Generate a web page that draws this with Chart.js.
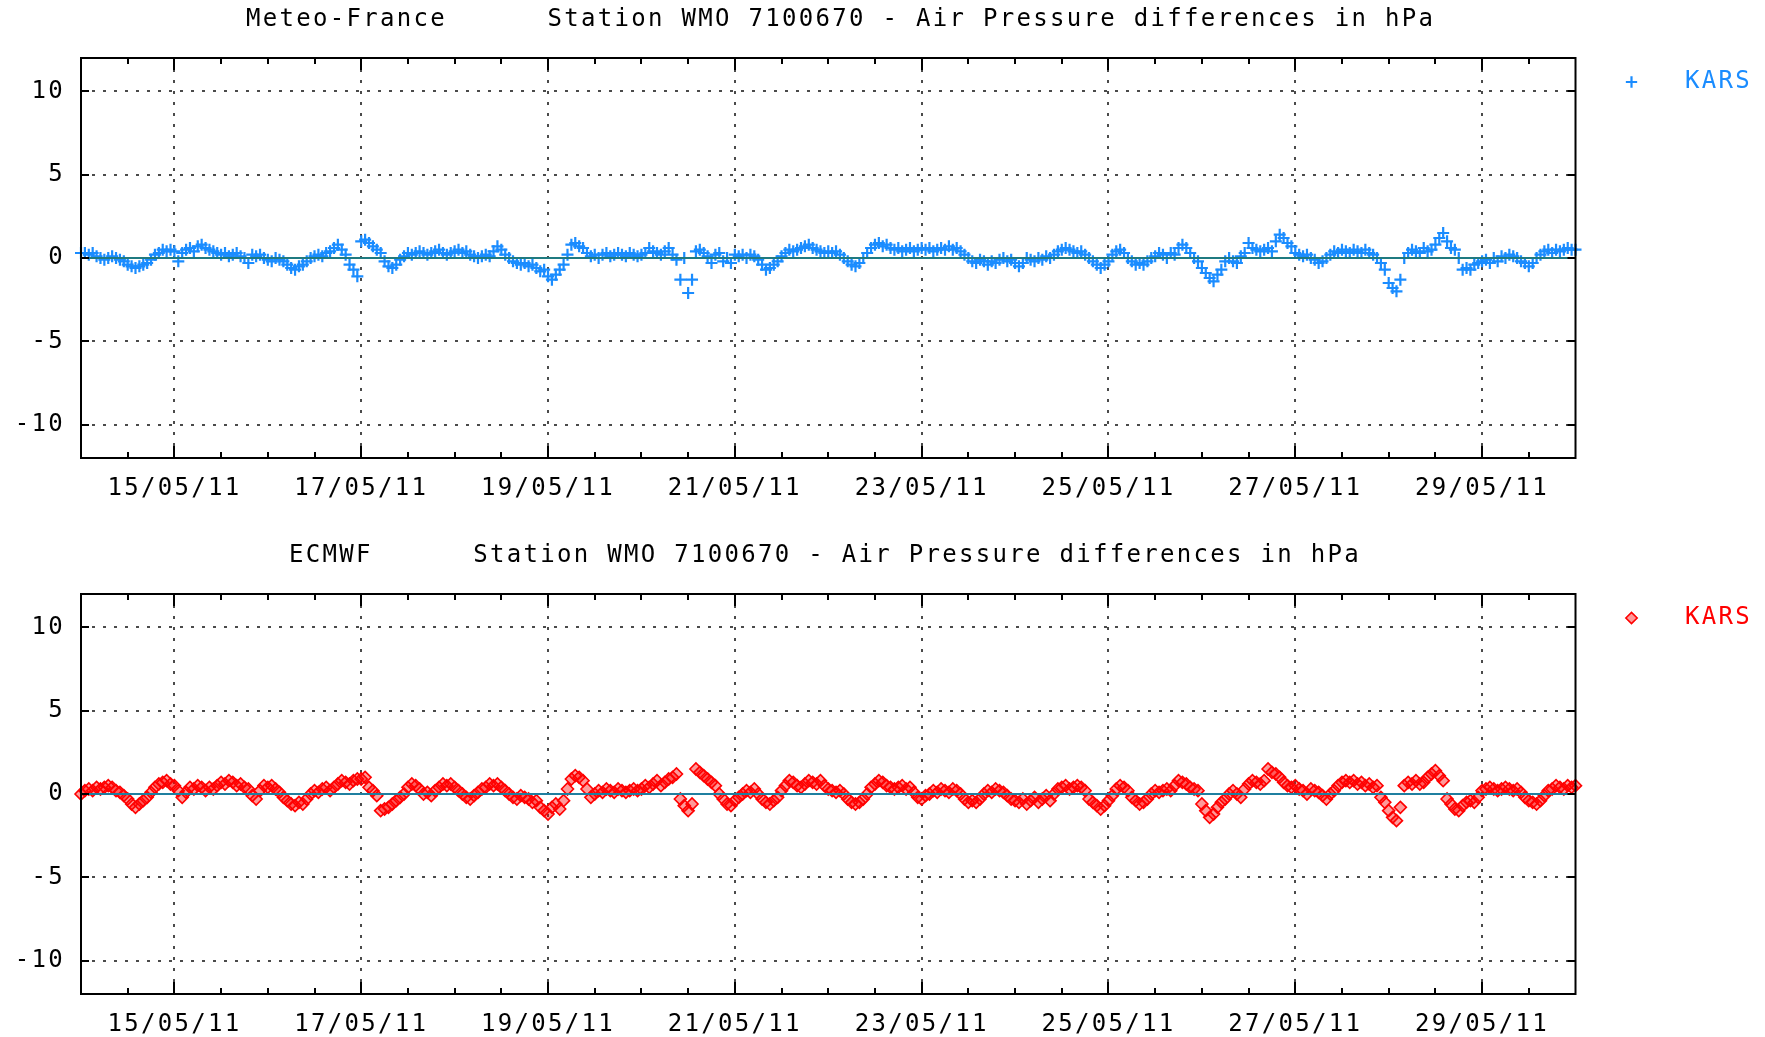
<!DOCTYPE html>
<html>
<head>
<meta charset="utf-8">
<title>Station WMO 7100670 - Air Pressure differences in hPa</title>
<script src="https://cdn.jsdelivr.net/npm/chart.js@4.4.1/dist/chart.umd.min.js"></script>
<style>
  html, body { margin: 0; padding: 0; background: #fff; }
  body { width: 1765px; height: 1037px; position: relative; overflow: hidden; }
  .panel { position: absolute; left: 0; width: 1765px; height: 500px; }
  #panel-mf { top: 0; }
  #panel-ec { top: 536px; }
</style>
</head>
<body>
<div class="panel" id="panel-mf"><canvas id="chart-mf" width="1765" height="500"></canvas></div>
<div class="panel" id="panel-ec"><canvas id="chart-ec" width="1765" height="500"></canvas></div>
<script>
// x axis is hours since 14/05/11 00:00, one reading per hour
const dateLabels = ['15/05/11', '17/05/11', '19/05/11', '21/05/11', '23/05/11', '25/05/11', '27/05/11', '29/05/11'];
const dateTickHours = [24, 72, 120, 168, 216, 264, 312, 360];
const halfDayTicks = [12, 24, 36, 48, 60, 72, 84, 96, 108, 120, 132, 144, 156, 168, 180, 192,
  204, 216, 228, 240, 252, 264, 276, 288, 300, 312, 324, 336, 348, 360, 372];
const pressureTicks = [-10, -5, 0, 5, 10];

// Meteo-France minus KARS, hPa (one row per day, 14/05 .. 29/05, plus 30/05 00h)
const meteoFranceDiff = [
  0.3, 0.3, 0.2, 0.3, 0.1, 0.0, -0.1, 0.0, 0.1, 0.0, -0.1, -0.2, -0.4, -0.5, -0.6, -0.5, -0.4, -0.3, -0.1, 0.2, 0.3, 0.5, 0.4, 0.5,
  0.4, -0.2, 0.3, 0.5, 0.6, 0.4, 0.7, 0.8, 0.6, 0.5, 0.4, 0.3, 0.2, 0.3, 0.1, 0.2, 0.3, 0.1, 0.0, -0.3, 0.2, 0.1, 0.2, 0.0,
  -0.1, -0.2, 0.0, -0.1, -0.2, -0.4, -0.6, -0.7, -0.5, -0.4, -0.2, 0.0, 0.1, 0.2, 0.1, 0.3, 0.4, 0.6, 0.8, 0.5, 0.2, -0.4, -0.7, -1.1,
  1.0, 1.1, 0.9, 0.7, 0.5, 0.3, -0.2, -0.5, -0.6, -0.4, -0.1, 0.1, 0.3, 0.2, 0.3, 0.4, 0.3, 0.2, 0.3, 0.4, 0.5, 0.3, 0.2, 0.3,
  0.4, 0.5, 0.3, 0.4, 0.2, 0.1, 0.0, 0.1, 0.2, 0.1, 0.4, 0.7, 0.5, 0.2, 0.0, -0.2, -0.3, -0.4, -0.3, -0.5, -0.4, -0.6, -0.8, -0.7,
  -1.1, -1.3, -1.0, -0.7, -0.4, 0.2, 0.8, 0.9, 0.7, 0.6, 0.3, 0.1, 0.2, 0.0, 0.2, 0.3, 0.1, 0.2, 0.3, 0.2, 0.1, 0.3, 0.2, 0.1,
  0.2, 0.3, 0.6, 0.4, 0.3, 0.2, 0.4, 0.6, 0.2, -0.1, -1.3, 0.0, -2.1, -1.3, 0.4, 0.5, 0.3, 0.1, -0.3, 0.2, 0.3, -0.2, 0.0, -0.3,
  0.2, 0.1, 0.2, 0.0, 0.2, 0.1, -0.1, -0.4, -0.7, -0.6, -0.4, -0.2, 0.1, 0.3, 0.5, 0.4, 0.5, 0.6, 0.7, 0.8, 0.6, 0.5, 0.4, 0.3,
  0.4, 0.3, 0.4, 0.2, 0.0, -0.2, -0.4, -0.5, -0.3, 0.0, 0.3, 0.6, 0.8, 0.9, 0.7, 0.8, 0.6, 0.5, 0.6, 0.4, 0.5, 0.6, 0.4, 0.5,
  0.6, 0.5, 0.6, 0.4, 0.5, 0.6, 0.5, 0.7, 0.5, 0.6, 0.4, 0.2, 0.0, -0.2, -0.3, -0.1, -0.2, -0.4, -0.2, -0.3, -0.1, 0.0, -0.2, -0.1,
  -0.3, -0.5, -0.3, 0.0, -0.1, -0.2, 0.0, -0.1, 0.1, 0.0, 0.2, 0.4, 0.5, 0.6, 0.5, 0.4, 0.3, 0.4, 0.2, 0.0, -0.2, -0.4, -0.6, -0.4,
  -0.2, 0.2, 0.4, 0.5, 0.3, 0.0, -0.2, -0.4, -0.3, -0.4, -0.2, 0.0, 0.1, 0.3, 0.2, 0.0, 0.3, 0.2, 0.6, 0.8, 0.6, 0.3, 0.0, -0.2,
  -0.6, -0.9, -1.2, -1.4, -1.0, -0.7, -0.2, 0.0, -0.2, -0.3, 0.1, 0.3, 0.9, 0.6, 0.5, 0.4, 0.5, 0.6, 0.4, 1.0, 1.4, 1.2, 0.9, 0.7,
  0.3, 0.2, 0.1, 0.2, 0.0, -0.1, -0.3, -0.2, 0.0, 0.2, 0.4, 0.3, 0.5, 0.4, 0.3, 0.5, 0.4, 0.3, 0.5, 0.3, 0.2, 0.0, -0.3, -0.7,
  -1.5, -1.8, -2.0, -1.3, 0.0, 0.3, 0.5, 0.4, 0.3, 0.6, 0.4, 0.5, 0.8, 1.2, 1.5, 1.0, 0.6, 0.5, 0.0, -0.7, -0.6, -0.7, -0.4, -0.3,
  -0.2, -0.1, -0.3, 0.0, -0.2, 0.1, 0.0, 0.2, 0.1, 0.0, -0.2, -0.3, -0.5, -0.3, 0.0, 0.2, 0.4, 0.5, 0.3, 0.5, 0.4, 0.5, 0.6, 0.5,
  0.5
];

// ECMWF minus KARS, hPa
const ecmwfDiff = [
  0.0, 0.2, 0.3, 0.2, 0.4, 0.3, 0.4, 0.5, 0.4, 0.2, 0.1, -0.1, -0.3, -0.6, -0.8, -0.6, -0.4, -0.2, 0.1, 0.4, 0.6, 0.7, 0.8, 0.6,
  0.5, 0.2, -0.2, 0.1, 0.4, 0.3, 0.5, 0.4, 0.2, 0.4, 0.3, 0.5, 0.7, 0.6, 0.8, 0.7, 0.5, 0.6, 0.4, 0.3, -0.1, -0.3, 0.2, 0.5,
  0.4, 0.5, 0.3, 0.1, -0.2, -0.4, -0.6, -0.7, -0.5, -0.6, -0.3, 0.0, 0.2, 0.1, 0.3, 0.4, 0.2, 0.4, 0.6, 0.8, 0.7, 0.6, 0.8, 0.9,
  0.9, 1.0, 0.4, 0.2, -0.1, -1.0, -0.9, -0.8, -0.6, -0.4, -0.2, 0.0, 0.4, 0.6, 0.5, 0.3, 0.0, 0.1, -0.1, 0.2, 0.4, 0.6, 0.5, 0.6,
  0.4, 0.2, 0.0, -0.2, -0.3, -0.1, 0.1, 0.3, 0.4, 0.6, 0.5, 0.6, 0.4, 0.2, 0.0, -0.2, -0.3, -0.1, -0.2, -0.3, -0.5, -0.4, -0.8, -1.0,
  -1.2, -0.8, -0.6, -0.9, -0.4, 0.3, 0.9, 1.1, 1.0, 0.8, 0.3, -0.2, 0.0, 0.2, 0.1, 0.3, 0.2, 0.1, 0.3, 0.2, 0.1, 0.2, 0.3, 0.2,
  0.3, 0.5, 0.4, 0.6, 0.8, 0.5, 0.7, 0.9, 1.0, 1.2, -0.3, -0.7, -1.0, -0.6, 1.5, 1.3, 1.1, 0.9, 0.7, 0.5, 0.0, -0.3, -0.6, -0.7,
  -0.4, -0.2, 0.0, 0.2, 0.1, 0.3, 0.0, -0.3, -0.5, -0.6, -0.4, -0.2, 0.2, 0.5, 0.8, 0.7, 0.5, 0.4, 0.6, 0.8, 0.7, 0.6, 0.8, 0.5,
  0.3, 0.2, 0.1, 0.2, 0.0, -0.3, -0.5, -0.6, -0.5, -0.3, 0.0, 0.4, 0.6, 0.8, 0.7, 0.5, 0.4, 0.3, 0.4, 0.5, 0.3, 0.4, 0.1, -0.2,
  -0.3, -0.1, 0.0, 0.2, 0.1, 0.3, 0.2, 0.1, 0.3, 0.2, 0.0, -0.3, -0.5, -0.4, -0.5, -0.3, 0.0, 0.2, 0.1, 0.3, 0.2, 0.1, -0.1, -0.3,
  -0.4, -0.5, -0.3, -0.6, -0.4, -0.2, -0.5, -0.3, -0.1, -0.4, 0.0, 0.3, 0.4, 0.5, 0.3, 0.4, 0.5, 0.4, 0.2, -0.3, -0.5, -0.7, -0.9, -0.7,
  -0.4, -0.1, 0.3, 0.5, 0.4, 0.2, -0.2, -0.4, -0.6, -0.5, -0.3, 0.0, 0.2, 0.1, 0.2, 0.3, 0.2, 0.5, 0.8, 0.7, 0.6, 0.4, 0.3, 0.2,
  -0.6, -1.0, -1.4, -1.2, -0.8, -0.5, -0.3, 0.0, 0.2, 0.0, -0.2, 0.3, 0.6, 0.8, 0.7, 0.6, 0.8, 1.5, 1.3, 1.2, 1.0, 0.7, 0.5, 0.4,
  0.5, 0.3, 0.2, 0.0, 0.3, 0.2, 0.1, -0.1, -0.3, 0.0, 0.2, 0.5, 0.7, 0.8, 0.7, 0.8, 0.6, 0.7, 0.5, 0.6, 0.4, 0.5, -0.2, -0.5,
  -1.0, -1.4, -1.6, -0.8, 0.5, 0.7, 0.6, 0.8, 0.6, 0.7, 1.0, 1.2, 1.4, 1.1, 0.8, -0.3, -0.6, -0.9, -1.0, -0.7, -0.5, -0.4, -0.5, -0.2,
  0.2, 0.3, 0.4, 0.3, 0.2, 0.3, 0.4, 0.3, 0.2, 0.3, 0.1, -0.2, -0.4, -0.5, -0.6, -0.4, -0.1, 0.2, 0.3, 0.5, 0.4, 0.3, 0.5, 0.4,
  0.5
];

const FONT_FAMILY = '"DejaVu Sans Mono", "Liberation Mono", monospace';
const FONT_SIZE = 24;
const LETTER_SPACING = '2.3px';
const tickFont = { family: FONT_FAMILY, size: FONT_SIZE };

// canvas text in the reference is widely spaced
const spacingPlugin = {
  id: 'spacing',
  beforeUpdate(chart) { chart.ctx.letterSpacing = LETTER_SPACING; },
  beforeDraw(chart) { chart.ctx.letterSpacing = LETTER_SPACING; }
};

const headerPlugin = {
  id: 'header',
  afterDraw(chart, args, opts) {
    const ctx = chart.ctx;
    ctx.save();
    ctx.letterSpacing = LETTER_SPACING;
    ctx.font = FONT_SIZE + 'px ' + FONT_FAMILY;
    ctx.fillStyle = '#000';
    ctx.textAlign = 'left';
    ctx.textBaseline = 'middle';
    ctx.fillText(opts.text, opts.x, opts.y);
    ctx.restore();
  }
};

// box round the plot and inward tick marks on all four sides
const framePlugin = {
  id: 'frame',
  afterDraw(chart) {
    const { ctx, chartArea: a, scales: { x, y } } = chart;
    ctx.save();
    ctx.strokeStyle = '#000';
    ctx.lineWidth = 2;
    ctx.beginPath();
    x.ticks.forEach(t => {
      const px = Math.round(x.getPixelForValue(t.value));
      const len = dateTickHours.includes(t.value) ? 12 : 6;
      ctx.moveTo(px, a.bottom); ctx.lineTo(px, a.bottom - len);
      ctx.moveTo(px, a.top); ctx.lineTo(px, a.top + len);
    });
    y.ticks.forEach(t => {
      const py = Math.round(y.getPixelForValue(t.value));
      ctx.moveTo(a.left, py); ctx.lineTo(a.left + 8, py);
      ctx.moveTo(a.right, py); ctx.lineTo(a.right - 8, py);
    });
    ctx.stroke();
    ctx.strokeRect(a.left, a.top, a.right - a.left, a.bottom - a.top);
    ctx.restore();
  }
};

function makeChart(canvasId, title, titleX, values, color, fill, pointStyle, zeroColor) {
  const points = values.map((v, h) => ({ x: h, y: v }));
  const legendLabels = Chart.defaults.plugins.legend.labels.generateLabels;
  return new Chart(document.getElementById(canvasId), {
    type: 'scatter',
    data: {
      datasets: [{
        label: 'KARS',
        data: points,
        pointStyle: pointStyle,
        pointRadius: 6,
        pointBorderWidth: pointStyle === 'cross' ? 2.2 : 1.6,
        pointBorderColor: color,
        pointBackgroundColor: fill,
        borderColor: color,
        backgroundColor: fill,
        clip: false
      }]
    },
    options: {
      responsive: false,
      animation: false,
      events: [],
      layout: { padding: { top: 58, left: 0, right: 3, bottom: 0 } },
      scales: {
        x: {
          type: 'linear', min: 0, max: 384,
          afterBuildTicks: s => { s.ticks = halfDayTicks.map(v => ({ value: v })); },
          afterFit: s => { s.height = 42; },
          ticks: {
            autoSkip: false, maxRotation: 0, padding: 16, color: '#000', font: tickFont,
            callback: v => {
              const i = dateTickHours.indexOf(v);
              return i >= 0 ? dateLabels[i] : '';
            }
          },
          grid: {
            drawTicks: false, lineWidth: 2,
            color: c => (c.tick && dateTickHours.includes(c.tick.value)) ? '#4a4a4a' : 'rgba(0,0,0,0)'
          },
          border: { display: false, dash: [3, 8] }
        },
        y: {
          min: -12, max: 12,
          afterBuildTicks: s => { s.ticks = pressureTicks.map(v => ({ value: v })); },
          afterFit: s => { s.width = 81; },
          ticks: { padding: 16, color: '#000', font: tickFont, callback: v => String(v) },
          grid: {
            drawTicks: false, z: 1,
            color: c => (c.tick && c.tick.value === 0) ? zeroColor : '#4a4a4a',
            lineWidth: 2
          },
          border: { display: false, dash: c => (c.tick && c.tick.value === 0) ? [] : [3, 8] }
        },
        // empty strip between the plot box and the legend
        gap: {
          position: 'right', min: -12, max: 12,
          afterFit: s => { s.width = 36; },
          ticks: { display: false },
          grid: { display: false, drawTicks: false },
          border: { display: false }
        }
      },
      plugins: {
        tooltip: { enabled: false },
        title: { display: false },
        header: { text: title, x: titleX, y: 20 },
        legend: {
          position: 'right', align: 'start',
          labels: {
            usePointStyle: true, boxWidth: 16, boxHeight: 8, padding: 12,
            color: color, font: tickFont,
            generateLabels: c => legendLabels(c).map(l => Object.assign(l, { text: '  ' + l.text }))
          }
        }
      }
    },
    plugins: [spacingPlugin, headerPlugin, framePlugin]
  });
}

makeChart('chart-mf', 'Meteo-France      Station WMO 7100670 - Air Pressure differences in hPa', 246,
  meteoFranceDiff, '#1a8cff', 'rgba(0,0,0,0)', 'cross', '#1f7a80');
makeChart('chart-ec', 'ECMWF      Station WMO 7100670 - Air Pressure differences in hPa', 289,
  ecmwfDiff, '#ff0000', 'rgba(255,0,0,0.4)', 'rectRot', '#1f7fa0');
</script>
</body>
</html>
